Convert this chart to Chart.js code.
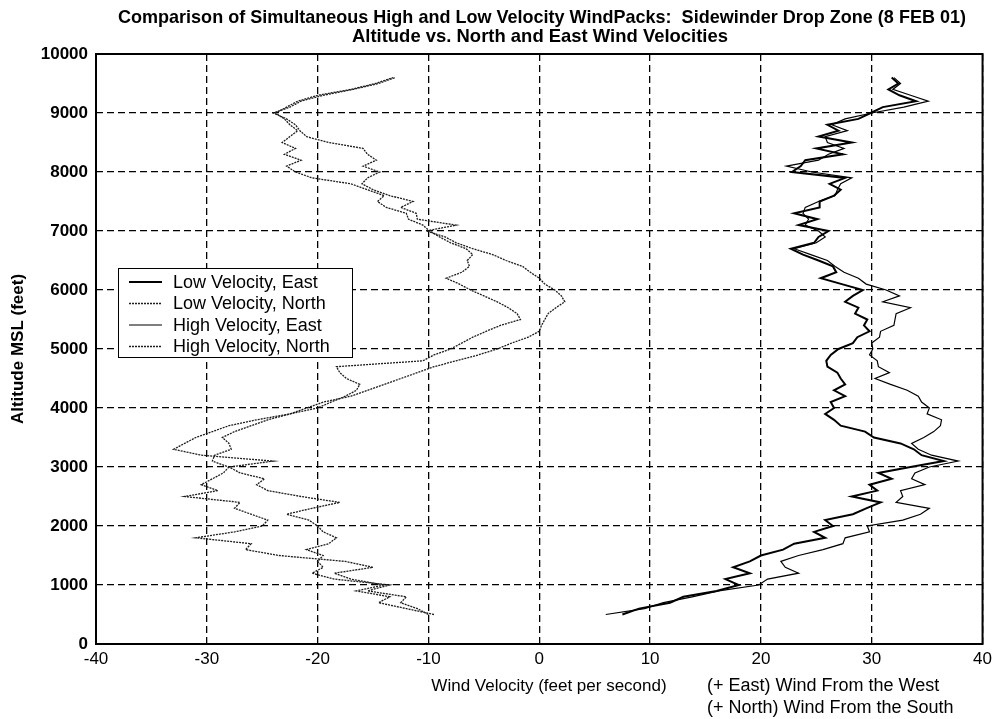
<!DOCTYPE html>
<html>
<head>
<meta charset="utf-8">
<title>Sidewinder Drop Zone - WindPacks</title>
<script src="https://cdn.jsdelivr.net/npm/chart.js@4.4.1/dist/chart.umd.min.js"></script>
<style>
  html, body { margin: 0; padding: 0; background: #fff; }
  #wrap { width: 997px; height: 719px; }
</style>
</head>
<body>
<div id="wrap"><canvas id="grafico" width="997" height="719"></canvas></div>
<script>
// ================= DADOS =================
// altitude (ft MSL), uma amostra a cada 100 ft
const altitudes = [
  500, 600, 700, 800, 900, 1000, 1100, 1200, 1300, 1400,
  1500, 1600, 1700, 1800, 1900, 2000, 2100, 2200, 2300, 2400,
  2500, 2600, 2700, 2800, 2900, 3000, 3100, 3200, 3300, 3400,
  3500, 3600, 3700, 3800, 3900, 4000, 4100, 4200, 4300, 4400,
  4500, 4600, 4700, 4800, 4900, 5000, 5100, 5200, 5300, 5400,
  5500, 5600, 5700, 5800, 5900, 6000, 6100, 6200, 6300, 6400,
  6500, 6600, 6700, 6800, 6900, 7000, 7100, 7200, 7300, 7400,
  7500, 7600, 7700, 7800, 7900, 8000, 8100, 8200, 8300, 8400,
  8500, 8600, 8700, 8800, 8900, 9000, 9100, 9200, 9300, 9400,
  9500, 9600
];

// velocidades (ft/s) para cada altitude
const lowEast = [
  7.5, 9.0, 11.8, 13.0, 16.0, 18.0, 16.8, 19.0, 17.5, 19.0,
  20.0, 22.0, 23.0, 25.8, 24.8, 26.5, 25.8, 28.3, 29.5, 30.8,
  28.2, 30.5, 29.8, 31.8, 30.6, 33.5, 36.5, 34.5, 33.8, 32.6,
  30.2, 29.4, 27.2, 26.6, 25.8, 26.6, 26.3, 27.6, 26.6, 27.6,
  27.2, 26.9, 26.0, 25.9, 26.3, 27.0, 28.3, 28.7, 29.8, 29.3,
  29.6, 28.5, 28.8, 27.6, 28.3, 29.2, 27.3, 25.4, 26.8, 26.5,
  25.2, 23.8, 22.7, 24.8, 25.2, 26.1, 23.4, 25.1, 23.0, 25.3,
  25.3, 26.6, 27.2, 26.2, 27.6, 22.8, 23.6, 24.0, 27.4, 25.0,
  28.2, 25.2, 27.0, 26.0, 28.8, 29.9, 31.0, 34.0, 32.5, 31.5,
  32.4, 31.8
];

const lowNorth = [
  -10.0, -11.0, -12.5, -12.0, -15.5, -13.5, -18.5, -20.5, -19.5, -20.0,
  -19.5, -21.0, -19.0, -18.3, -19.5, -20.0, -20.8, -22.8, -20.5, -18.0,
  -21.5, -24.5, -25.5, -24.8, -27.0, -28.0, -29.5, -29.3, -27.8, -28.0,
  -28.6, -27.5, -26.0, -24.5, -22.5, -20.0, -18.8, -17.5, -16.5, -16.2,
  -17.4, -18.0, -18.3, -10.5, -9.5, -8.0, -7.0, -6.0, -4.8, -3.5,
  -1.7, -2.0, -2.8, -3.8, -5.0, -6.2, -7.2, -8.4, -7.0, -6.3,
  -6.5, -6.0, -6.6, -8.0, -9.0, -9.9, -10.5, -11.8, -12.0, -13.8,
  -14.6, -14.0, -15.5, -17.0, -20.5, -22.0, -22.8, -21.5, -23.0, -22.0,
  -23.2, -22.5, -21.8, -22.5, -23.0, -23.8, -22.8, -21.8, -20.0, -17.0,
  -14.8, -13.2
];

const highEast = [
  6.0, 9.5, 11.2, 13.8, 16.2, 19.8, 20.6, 23.4, 22.2, 21.8,
  23.4, 25.6, 27.4, 27.6, 29.8, 29.6, 32.8, 34.4, 35.2, 32.2,
  32.8, 32.6, 34.8, 33.6, 33.9, 35.2, 37.8, 35.4, 34.2, 33.6,
  34.7, 35.6, 36.2, 36.3, 35.0, 35.2, 34.5, 34.2, 33.2, 31.7,
  30.3, 31.6, 30.6, 30.5, 29.8, 30.1, 30.0, 30.7, 30.8, 32.0,
  32.1, 32.2, 33.5, 31.0, 32.5, 31.3, 29.5, 28.8, 27.5, 26.7,
  26.0, 24.5, 23.0, 25.0, 25.8, 25.2, 24.0, 24.3, 23.8, 24.0,
  25.2, 26.7, 26.9, 27.2, 28.2, 24.6, 22.3, 25.2, 26.1, 27.5,
  26.0, 25.8, 27.8, 26.4, 27.6, 30.0, 32.9, 35.1, 33.5, 31.9,
  32.6, 32.0
];

const highNorth = [
  -9.5, -12.0, -14.5, -13.5, -16.5, -14.0, -17.0, -18.5, -15.0, -17.5,
  -23.5, -26.5, -26.0, -31.0, -27.5, -25.0, -24.5, -26.0, -27.5, -27.0,
  -32.0, -29.0, -30.5, -29.5, -28.5, -28.0, -24.0, -30.5, -33.0, -32.0,
  -31.0, -29.5, -28.0, -25.5, -22.5, -21.0, -19.5, -17.0, -15.5, -14.0,
  -12.5, -11.0, -9.5, -7.5, -5.5, -3.8, -2.5, -1.0, 0.0, 0.2,
  0.5, 0.8, 1.5, 2.3, 2.0, 1.4, 0.5, 0.0, -0.8, -1.5,
  -3.0, -4.2, -6.0, -7.5, -8.5, -10.2, -7.5, -11.0, -11.1, -12.5,
  -11.4, -13.5, -15.0, -16.0, -15.5, -14.4, -15.9, -14.7, -15.5, -15.9,
  -19.0, -21.0, -21.6, -22.0, -22.8, -24.0, -22.5, -21.5, -19.5, -16.8,
  -14.5, -13.0
];

const nomesSeries = ['Low Velocity, East', 'Low Velocity, North', 'High Velocity, East', 'High Velocity, North'];
const ticksX = [-40, -30, -20, -10, 0, 10, 20, 30, 40];
const ticksY = [0, 1000, 2000, 3000, 4000, 5000, 6000, 7000, 8000, 9000, 10000];

const titulo1 = 'Comparison of Simultaneous High and Low Velocity WindPacks:  Sidewinder Drop Zone (8 FEB 01)';
const titulo2 = 'Altitude vs. North and East Wind Velocities';
const tituloX = 'Wind Velocity (feet per second)';
const notas = ['(+ East) Wind From the West', '(+ North) Wind From the South'];

const FONTE = '"Liberation Sans", Arial, sans-serif';

// junta velocidade (x) e altitude (y) em pontos
function pontos(valores) {
  return valores.map((v, i) => ({ x: v, y: altitudes[i] }));
}

// escreve texto centrado, esticado/encolhido até a largura pedida
function textoAjustado(ctx, texto, cx, base, largura) {
  const w = ctx.measureText(texto).width;
  ctx.save();
  ctx.translate(cx, base);
  ctx.scale(largura / w, 1);
  ctx.textAlign = 'center';
  ctx.fillText(texto, 0, 0);
  ctx.restore();
}

// ================= MOLDURA, LEGENDA E TEXTOS =================
const extras = {
  id: 'extras',
  afterDatasetsDraw(chart) {
    const { ctx, chartArea: a } = chart;
    ctx.save();

    // moldura do gráfico
    ctx.strokeStyle = '#000';
    ctx.lineWidth = 2;
    ctx.setLineDash([]);
    ctx.strokeRect(a.left, a.top, a.right - a.left, a.bottom - a.top);

    // legenda (caixa opaca por cima das linhas)
    const lx = 118, ly = 268, lw = 234, lh = 89;
    ctx.fillStyle = '#fff';
    ctx.fillRect(lx, ly, lw, lh);
    ctx.lineWidth = 1;
    ctx.strokeRect(lx + 0.5, ly + 0.5, lw, lh);

    ctx.font = '18px ' + FONTE;
    ctx.textBaseline = 'middle';
    ctx.textAlign = 'left';
    chart.data.datasets.forEach((ds, i) => {
      const y = ly + 14 + i * 21.5;
      ctx.strokeStyle = ds.borderColor;
      ctx.lineWidth = ds.borderWidth;
      ctx.setLineDash(ds.borderDash || []);
      ctx.beginPath();
      ctx.moveTo(129, y);
      ctx.lineTo(162, y);
      ctx.stroke();
      ctx.fillStyle = '#000';
      ctx.fillText(ds.label, 173, y + 1);
    });
    ctx.restore();
  },
  afterDraw(chart) {
    const { ctx } = chart;
    ctx.save();
    ctx.fillStyle = '#000';
    ctx.textBaseline = 'alphabetic';

    ctx.font = 'bold 19px ' + FONTE;
    textoAjustado(ctx, titulo1, 542, 23, 848);
    textoAjustado(ctx, titulo2, 540, 42, 376);

    ctx.font = '17px ' + FONTE;
    ctx.textAlign = 'center';
    ctx.fillText(tituloX, 549, 691);
    ctx.textAlign = 'left';
    ctx.font = '18px ' + FONTE;
    ctx.fillText(notas[0], 707, 691);
    ctx.fillText(notas[1], 707, 713);
    ctx.restore();
  }
};

// ================= GRÁFICO =================
const ctx = document.getElementById('grafico');

const linhaNorte = { borderColor: '#1e1e1e', borderWidth: 1.3, borderDash: [2, 1] };

new Chart(ctx.getContext('2d'), {
  type: 'scatter',
  data: {
    datasets: [
      { label: nomesSeries[0], data: pontos(lowEast), borderColor: '#000', borderWidth: 2 },
      Object.assign({ label: nomesSeries[1], data: pontos(lowNorth) }, linhaNorte),
      { label: nomesSeries[2], data: pontos(highEast), borderColor: '#000', borderWidth: 1.2 },
      Object.assign({ label: nomesSeries[3], data: pontos(highNorth) }, linhaNorte)
    ]
  },
  options: {
    responsive: false,
    animation: false,
    devicePixelRatio: 1,
    showLine: true,
    elements: {
      point: { radius: 0, hoverRadius: 0 },
      line: { tension: 0, fill: false }
    },
    layout: { padding: { top: 54, right: 10, left: 0, bottom: 0 } },
    plugins: {
      legend: { display: false },
      tooltip: { enabled: false },
      title: { display: false }
    },
    scales: {
      x: {
        type: 'linear',
        min: -40,
        max: 40,
        afterBuildTicks: s => { s.ticks = ticksX.map(v => ({ value: v })); },
        afterFit: s => { s.height = 75; },
        grid: { color: '#000', lineWidth: 1.3, drawTicks: false },
        border: { display: false, dash: [7, 4] },
        ticks: {
          color: '#000',
          padding: 5,
          maxRotation: 0,
          callback: v => String(v),
          font: { family: FONTE, size: 17 }
        }
      },
      y: {
        type: 'linear',
        min: 0,
        max: 10000,
        afterBuildTicks: s => { s.ticks = ticksY.map(v => ({ value: v })); },
        afterFit: s => { s.width = 96; },
        grid: { color: '#000', lineWidth: 1.3, drawTicks: false },
        border: { display: false, dash: [7, 4] },
        ticks: {
          color: '#000',
          padding: 8,
          callback: v => String(v),
          font: { family: FONTE, size: 17, weight: 'bold' }
        },
        title: {
          display: true,
          text: 'Altitude MSL (feet)',
          color: '#000',
          font: { family: FONTE, size: 17, weight: 'bold' },
          padding: { top: 8, bottom: 0 }
        }
      }
    }
  },
  plugins: [extras]
});
</script>
</body>
</html>
